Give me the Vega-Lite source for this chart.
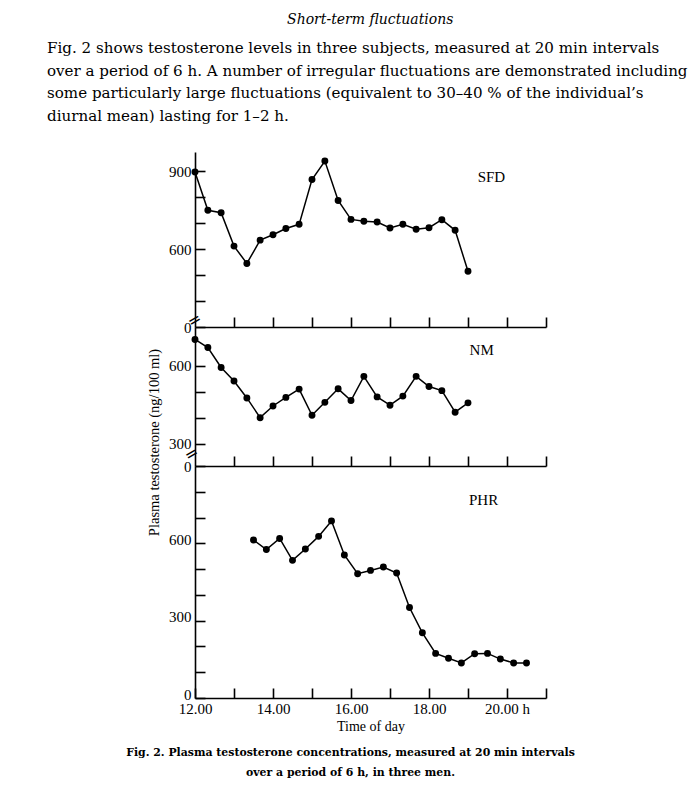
{
  "$schema": "https://vega.github.io/schema/vega-lite/v6.json",
  "background": "white",
  "padding": {"left": 47, "top": 13, "right": 5, "bottom": 5},
  "config": {
    "view": {"stroke": null},
    "axis": {
      "domainColor": "black", "tickColor": "black", "labelColor": "black", "titleColor": "black",
      "labelFont": "Liberation Serif", "titleFont": "Liberation Serif", "labelFontSize": 15,
      "titleFontSize": 14.5, "titleFontWeight": "normal", "grid": false,
      "domainWidth": 1.6, "tickWidth": 1.6, "labelOverlap": false, "labelFlush": false,
      "tickCount": 50, "labelPadding": 14
    }
  },
  "datasets": {
    "tt": [
      {"subject": "SFD", "time": 12.0, "value": 898},
      {"subject": "SFD", "time": 12.33, "value": 750},
      {"subject": "SFD", "time": 12.67, "value": 741},
      {"subject": "SFD", "time": 13.0, "value": 612},
      {"subject": "SFD", "time": 13.33, "value": 545},
      {"subject": "SFD", "time": 13.67, "value": 635},
      {"subject": "SFD", "time": 14.0, "value": 656},
      {"subject": "SFD", "time": 14.33, "value": 680},
      {"subject": "SFD", "time": 14.67, "value": 696},
      {"subject": "SFD", "time": 15.0, "value": 869},
      {"subject": "SFD", "time": 15.33, "value": 940},
      {"subject": "SFD", "time": 15.67, "value": 788},
      {"subject": "SFD", "time": 16.0, "value": 715},
      {"subject": "SFD", "time": 16.33, "value": 708},
      {"subject": "SFD", "time": 16.67, "value": 705},
      {"subject": "SFD", "time": 17.0, "value": 682},
      {"subject": "SFD", "time": 17.33, "value": 696},
      {"subject": "SFD", "time": 17.67, "value": 677},
      {"subject": "SFD", "time": 18.0, "value": 683},
      {"subject": "SFD", "time": 18.33, "value": 714},
      {"subject": "SFD", "time": 18.67, "value": 673},
      {"subject": "SFD", "time": 19.0, "value": 515},
      {"subject": "NM", "time": 12.0, "value": 702},
      {"subject": "NM", "time": 12.33, "value": 671},
      {"subject": "NM", "time": 12.67, "value": 594},
      {"subject": "NM", "time": 13.0, "value": 542},
      {"subject": "NM", "time": 13.33, "value": 477},
      {"subject": "NM", "time": 13.67, "value": 401},
      {"subject": "NM", "time": 14.0, "value": 446},
      {"subject": "NM", "time": 14.33, "value": 479},
      {"subject": "NM", "time": 14.67, "value": 511},
      {"subject": "NM", "time": 15.0, "value": 410},
      {"subject": "NM", "time": 15.33, "value": 460},
      {"subject": "NM", "time": 15.67, "value": 512},
      {"subject": "NM", "time": 16.0, "value": 467},
      {"subject": "NM", "time": 16.33, "value": 560},
      {"subject": "NM", "time": 16.67, "value": 481},
      {"subject": "NM", "time": 17.0, "value": 449},
      {"subject": "NM", "time": 17.33, "value": 484},
      {"subject": "NM", "time": 17.67, "value": 560},
      {"subject": "NM", "time": 18.0, "value": 521},
      {"subject": "NM", "time": 18.33, "value": 505},
      {"subject": "NM", "time": 18.67, "value": 422},
      {"subject": "NM", "time": 19.0, "value": 458},
      {"subject": "PHR", "time": 13.5, "value": 613},
      {"subject": "PHR", "time": 13.83, "value": 576},
      {"subject": "PHR", "time": 14.17, "value": 619},
      {"subject": "PHR", "time": 14.5, "value": 534},
      {"subject": "PHR", "time": 14.83, "value": 578},
      {"subject": "PHR", "time": 15.17, "value": 627},
      {"subject": "PHR", "time": 15.5, "value": 687},
      {"subject": "PHR", "time": 15.83, "value": 555},
      {"subject": "PHR", "time": 16.17, "value": 482},
      {"subject": "PHR", "time": 16.5, "value": 495},
      {"subject": "PHR", "time": 16.83, "value": 508},
      {"subject": "PHR", "time": 17.17, "value": 485},
      {"subject": "PHR", "time": 17.5, "value": 351},
      {"subject": "PHR", "time": 17.83, "value": 253},
      {"subject": "PHR", "time": 18.17, "value": 173},
      {"subject": "PHR", "time": 18.5, "value": 154},
      {"subject": "PHR", "time": 18.83, "value": 136},
      {"subject": "PHR", "time": 19.17, "value": 172},
      {"subject": "PHR", "time": 19.5, "value": 173},
      {"subject": "PHR", "time": 19.83, "value": 151},
      {"subject": "PHR", "time": 20.17, "value": 136},
      {"subject": "PHR", "time": 20.5, "value": 136}
    ]
  },
  "title": {
    "text": "Short-term fluctuations",
    "font": "DejaVu Serif", "fontStyle": "italic", "fontWeight": "normal", "fontSize": 14,
    "anchor": "middle", "color": "black", "offset": 14, "dx": 3
  },
  "vconcat": [
    {
      "title": {
        "text": [
          "Fig. 2 shows testosterone levels in three subjects, measured at 20 min intervals",
          "over a period of 6 h. A number of irregular fluctuations are demonstrated including",
          "some particularly large fluctuations (equivalent to 30–40 % of the individual’s",
          "diurnal mean) lasting for 1–2 h."
        ],
        "anchor": "start", "frame": "group", "font": "DejaVu Serif", "fontSize": 15.1,
        "fontWeight": "normal", "lineHeight": 22.5, "dx": -148, "offset": 28, "color": "black"
      },
      "spacing": 0,
      "bounds": "flush",
      "vconcat": [
        {
          "width": 351, "height": 175,
          "layer": [
            {
              "data": {"name": "tt"},
              "transform": [{"filter": "datum.subject == 'SFD'"}],
              "mark": {"type": "line", "color": "black", "strokeWidth": 1.5,
                       "point": {"filled": true, "color": "black", "size": 48, "opacity": 1}},
              "encoding": {
                "x": {"field": "time", "type": "quantitative",
                      "scale": {"domain": [12, 21], "nice": false, "zero": false},
                      "axis": {"values": [13, 14, 15, 16, 17, 18, 19, 20, 21], "labels": false, "tickSize": -10, "title": null}},
                "y": {"field": "value", "type": "quantitative",
                      "scale": {"domain": [300, 975], "nice": false, "zero": false},
                      "axis": {"values": [300, 400, 500, 600, 700, 800, 900], "tickSize": -10, "title": null,
                               "labelExpr": "datum.value == 300 ? '0' : (datum.value % 300 == 0 ? datum.label : '')"}}
              }
            },
            {
              "data": {"values": [{"subject": "SFD"}]},
              "mark": {"type": "text", "font": "Liberation Serif", "fontSize": 15, "color": "black"},
              "encoding": {
                "x": {"datum": 19.6, "type": "quantitative"},
                "y": {"datum": 877, "type": "quantitative"},
                "text": {"field": "subject"}
              }
            },
            {
              "data": {"values": [{"brk": "="}]},
              "mark": {"type": "text", "fontSize": 16, "angle": -30, "dx": 3, "dy": -6, "color": "black", "font": "DejaVu Sans"},
              "encoding": {
                "x": {"datum": 12, "type": "quantitative"},
                "y": {"datum": 300, "type": "quantitative"},
                "text": {"field": "brk"}
              }
            }
          ]
        },
        {
          "width": 351, "height": 139,
          "layer": [
            {
              "data": {"name": "tt"},
              "transform": [{"filter": "datum.subject == 'NM'"}],
              "mark": {"type": "line", "color": "black", "strokeWidth": 1.5,
                       "point": {"filled": true, "color": "black", "size": 48, "opacity": 1}},
              "encoding": {
                "x": {"field": "time", "type": "quantitative",
                      "scale": {"domain": [12, 21], "nice": false, "zero": false},
                      "axis": {"values": [13, 14, 15, 16, 17, 18, 19, 20, 21], "labels": false, "tickSize": -10, "title": null}},
                "y": {"field": "value", "type": "quantitative",
                      "scale": {"domain": [215, 750], "nice": false, "zero": false},
                      "axis": {"values": [215, 300, 400, 500, 600], "tickSize": -10,
                               "title": "Plasma testosterone (ng/100 ml)", "titleX": -34, "titleY": 115,
                               "labelExpr": "datum.value == 215 ? '0' : (datum.value % 300 == 0 ? datum.label : '')"}}
              }
            },
            {
              "data": {"values": [{"subject": "NM"}]},
              "mark": {"type": "text", "font": "Liberation Serif", "fontSize": 15, "color": "black"},
              "encoding": {
                "x": {"datum": 19.35, "type": "quantitative"},
                "y": {"datum": 661, "type": "quantitative"},
                "text": {"field": "subject"}
              }
            },
            {
              "data": {"values": [{"brk": "="}]},
              "mark": {"type": "text", "fontSize": 16, "angle": -30, "dx": 3, "dy": -12, "color": "black", "font": "DejaVu Sans"},
              "encoding": {
                "x": {"datum": 12, "type": "quantitative"},
                "y": {"datum": 215, "type": "quantitative"},
                "text": {"field": "brk"}
              }
            }
          ]
        },
        {
          "width": 351, "height": 232,
          "title": {
            "text": [
              "Fig. 2. Plasma testosterone concentrations, measured at 20 min intervals",
              "over a period of 6 h, in three men."
            ],
            "orient": "bottom", "anchor": "middle", "frame": "group", "dx": -20,
            "font": "DejaVu Serif", "fontSize": 10.9, "fontWeight": "bold", "lineHeight": 19.5,
            "offset": 14, "color": "black"
          },
          "layer": [
            {
              "data": {"name": "tt"},
              "transform": [{"filter": "datum.subject == 'PHR'"}],
              "mark": {"type": "line", "color": "black", "strokeWidth": 1.5,
                       "point": {"filled": true, "color": "black", "size": 48, "opacity": 1}},
              "encoding": {
                "x": {"field": "time", "type": "quantitative",
                      "scale": {"domain": [12, 21], "nice": false, "zero": false},
                      "axis": {"values": [12, 13, 14, 15, 16, 17, 18, 19, 20, 21], "tickSize": -10,
                               "labelPadding": 13,
                               "title": "Time of day", "titleFontSize": 14, "titlePadding": 3,
                               "labelExpr": "datum.value % 2 == 0 && datum.value < 21 ? (datum.value == 20 ? '\u2002\u200920.00 h' : format(datum.value, '.2f')) : ''"}},
                "y": {"field": "value", "type": "quantitative",
                      "scale": {"domain": [0, 900], "nice": false, "zero": false},
                      "axis": {"values": [0, 100, 200, 300, 400, 500, 600, 700, 800], "tickSize": -10, "title": null,
                               "labelOffset": -4,
                               "labelExpr": "datum.value % 300 == 0 ? datum.label : ''"}}
              }
            },
            {
              "data": {"values": [{"subject": "PHR"}]},
              "mark": {"type": "text", "font": "Liberation Serif", "fontSize": 15, "color": "black"},
              "encoding": {
                "x": {"datum": 19.4, "type": "quantitative"},
                "y": {"datum": 769, "type": "quantitative"},
                "text": {"field": "subject"}
              }
            }
          ]
        }
      ]
    }
  ]
}
